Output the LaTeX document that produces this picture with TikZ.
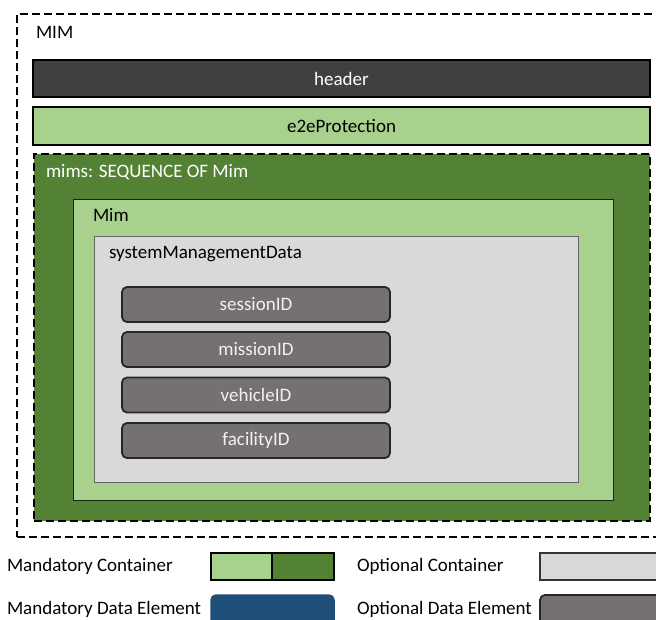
\documentclass[tikz,border=0pt]{standalone}
\usepackage{fontspec}
\setmainfont{Carlito}
\definecolor{hdr}{HTML}{404040}
\definecolor{lgreen}{HTML}{A9D18E}
\definecolor{dgreen}{HTML}{548235}
\definecolor{lgray}{HTML}{D9D9D9}
\definecolor{egray}{HTML}{767171}
\definecolor{dblue}{HTML}{1F4E79}
\definecolor{etext}{HTML}{F2F2F2}
\begin{document}
\begin{tikzpicture}[x=1pt,y=-1pt,
  every node/.style={font=\fontsize{19}{22}\selectfont, inner sep=0pt, outer sep=0pt},
  dashbox/.style={draw=black, line width=2.4pt, dash pattern=on 8pt off 4pt},
  solidbox/.style={draw=black, line width=1.8pt},
  thinbox/.style={draw=#1, line width=0.9pt},
  elem/.style={draw=black!85, line width=1.8pt, fill=egray, rounded corners=5pt,
    minimum width=268pt, minimum height=35pt, text=etext},
  title/.style={anchor=west}
]
\clip (0,0) rectangle (656,619);
\fill[white] (0,0) rectangle (656,619);
% outer MIM
\node[dashbox, minimum width=650pt, minimum height=523pt] (mimouter) at (342,275.5) {};
\node[title] (mimlbl) at (36,32) {MIM};
% header
\node[solidbox, fill=hdr, minimum width=617pt, minimum height=37pt, text=white] (header) at (341.5,78.5) {header};
% e2eProtection
\node[solidbox, fill=lgreen, minimum width=617pt, minimum height=38pt] (e2e) at (341.5,126) {e2eProtection};
% mims
\node[dashbox, fill=dgreen, minimum width=616pt, minimum height=367pt] (mims) at (342,337.5) {};
\node[title, text=white] (mimslbl) at (46,172) {mims: SEQUENCE OF Mim};
% Mim
\node[thinbox=black!70!dgreen, fill=lgreen, minimum width=540pt, minimum height=301pt] (mim) at (343,349.5) {};
\node[title] (mimlbl2) at (93,215) {Mim};
% systemManagementData
\node[thinbox=black!60, fill=lgray, minimum width=484pt, minimum height=246pt] (smd) at (336,359) {};
\node[title] (smdlbl) at (109,254) {systemManagementData};
% elements
\node[elem] (session) at (256,304.5) {sessionID};
\node[elem] (mission) at (256,349.5) {missionID};
\node[elem] (vehicle) at (256,395) {vehicleID};
\node[elem] (facility) at (256,440.5) {facilityID};
% legend
\node[title] (lmc) at (7,566) {Mandatory Container};
\node[draw=black, line width=1.5pt, fill=lgreen, minimum width=61pt, minimum height=27pt] (mc1) at (241.5,566.5) {};
\node[draw=black, line width=1.5pt, fill=dgreen, minimum width=62pt, minimum height=27pt] (mc2) at (303,566.5) {};
\node[title] (loc) at (357,566) {Optional Container};
\node[draw=black!80, line width=1.5pt, fill=lgray, minimum width=126pt, minimum height=27pt] (oc) at (603,566.5) {};
\node[title] (lmde) at (7,609) {Mandatory Data Element};
\node[draw=dblue, line width=1.5pt, fill=dblue, rounded corners=5pt, minimum width=123pt, minimum height=33pt] (mde) at (272.5,611.5) {};
\node[title] (lode) at (357,609) {Optional Data Element};
\node[draw=black!85, line width=1.8pt, fill=egray, rounded corners=5pt, minimum width=126pt, minimum height=33pt] (ode) at (603,611.5) {};
\end{tikzpicture}
\end{document}
